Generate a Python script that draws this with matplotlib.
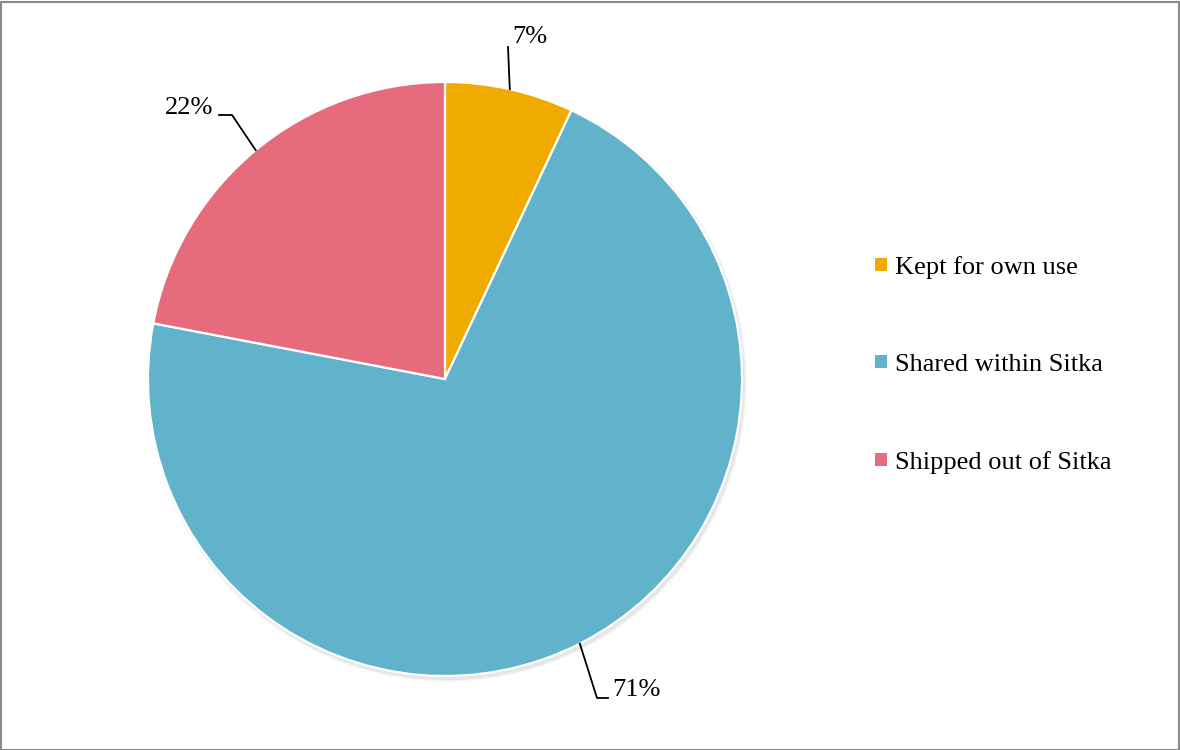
import numpy as np
import matplotlib.pyplot as plt
from matplotlib.patches import Circle, Rectangle, Patch

plt.rcParams['font.family'] = ['Liberation Serif', 'DejaVu Serif']

# Share of harvest by use
labels = ['Kept for own use', 'Shared within Sitka', 'Shipped out of Sitka']
shares = [7, 71, 22]
colors = ['#F0AB00', '#61B3CB', '#E66B7D']

# label placement per slice: (elbow point, end point, text position, alignment)
label_layout = [
    ((508, 47), (508, 47), (512, 37), 'left'),
    ((597, 698), (608, 698), (612, 690), 'left'),
    ((232, 115), (219, 115), (213, 108), 'right'),
]

W, H = 1180, 750
cx, cy, r = 445, H - 379, 297

fig = plt.figure(figsize=(W / 100, H / 100), dpi=100)
ax = fig.add_axes([0, 0, 1, 1])

# soft drop shadow behind the pie
for k, a in [(6, 0.04), (4, 0.06), (2, 0.10)]:
    ax.add_patch(Circle((cx + 2, cy - 3), r + k * 0.5, color='#808080', alpha=a,
                        lw=0, zorder=1))

wedges, _ = ax.pie(shares, colors=colors, startangle=90, counterclock=False,
                   center=(cx, cy), radius=r, frame=True,
                   wedgeprops=dict(edgecolor='white', linewidth=1.6))
for w in wedges:
    w.set_zorder(2)
ax.set_xlim(0, W)
ax.set_ylim(0, H)
ax.set_aspect('equal')
ax.axis('off')

# percentage labels with leader lines from each slice's mid-angle
total = sum(shares)
start = 90.0
for val, (elbow, end, tpos, ha) in zip(shares, label_layout):
    sweep = 360.0 * val / total
    mid = np.deg2rad(start - sweep / 2)
    start -= sweep
    px, py = cx + r * np.cos(mid), cy + r * np.sin(mid)
    ex, ey = elbow[0], H - elbow[1]
    fx, fy = end[0], H - end[1]
    ax.plot([px, ex, fx], [py, ey, fy], color='black', lw=1.3, zorder=3)
    ax.text(tpos[0], H - tpos[1], f'{val}%', fontsize=19, ha=ha, va='center',
            color='black', zorder=4)

handles = [Patch(facecolor=c, edgecolor='none') for c in colors]
fig.legend(handles, labels, loc='center left', bbox_to_anchor=(0.7307, 0.5135),
           frameon=False, fontsize=19, handlelength=0.42, handleheight=0.42,
           handletextpad=0.32, labelspacing=2.84, borderpad=0)

# chart border
fig.add_artist(Rectangle((0.5 / W, 0.5 / H), 1 - 2 / W, 1 - 2 / H,
                         transform=fig.transFigure, fill=False,
                         edgecolor='#8a8a8a', lw=1.5))

fig.savefig('out.png', dpi=100)
